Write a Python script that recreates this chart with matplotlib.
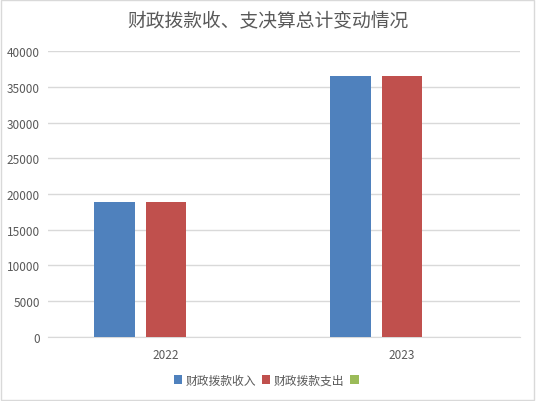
import matplotlib
matplotlib.use("Agg")
import matplotlib.pyplot as plt
from matplotlib.patches import Rectangle
import numpy as np

plt.rcParams['font.family'] = ['Noto Sans CJK SC', 'DejaVu Sans']

# 数据
years = ["2022", "2023"]
income = [18900, 36500]
expense = [18900, 36500]
other = [0, 0]
series_names = ["财政拨款收入", "财政拨款支出", ""]
colors = ["#4f81bd", "#c0504d", "#9bbb59"]

fig = plt.figure(figsize=(5.36, 4.02), dpi=100)
ax = fig.add_axes([0.0896, 0.16, 0.8806, 0.71])

x = np.arange(len(years))
w = 0.173
step = 0.22
handles = []
for i, (vals, c) in enumerate(zip([income, expense, other], colors)):
    b = ax.bar(x + (i - 1) * step, vals, width=w, color=c, linewidth=0, zorder=3)
    handles.append(b)

ax.set_xlim(-0.5, 1.5)
ax.set_ylim(0, 40000)
ax.set_yticks(range(0, 40001, 5000))
ax.set_xticks(x)
ax.set_xticklabels(years)
ax.grid(axis='y', color='#d9d9d9', linewidth=1, zorder=0)
for s in ['top', 'right', 'left']:
    ax.spines[s].set_visible(False)
ax.spines['bottom'].set_color('#d9d9d9')
ax.tick_params(length=0, colors='#595959', labelsize=8.5)
ax.tick_params(axis='y', pad=6)
ax.tick_params(axis='x', pad=8)

fig.text(0.5, 0.948, "财政拨款收、支决算总计变动情况", ha='center', va='center',
         fontsize=13.5, color='#595959')

fig.legend(handles, series_names, loc='center', bbox_to_anchor=(0.5, 0.052),
           ncol=3, frameon=False, fontsize=8.5, handlelength=0.7, handleheight=0.7,
           handletextpad=0.3, columnspacing=0.5, labelcolor='#595959')

fig.patches.append(Rectangle((0.002, 0.003), 0.994, 0.994, transform=fig.transFigure,
                             fill=False, edgecolor='#d9d9d9', linewidth=1))

fig.savefig("out.png", dpi=100)
